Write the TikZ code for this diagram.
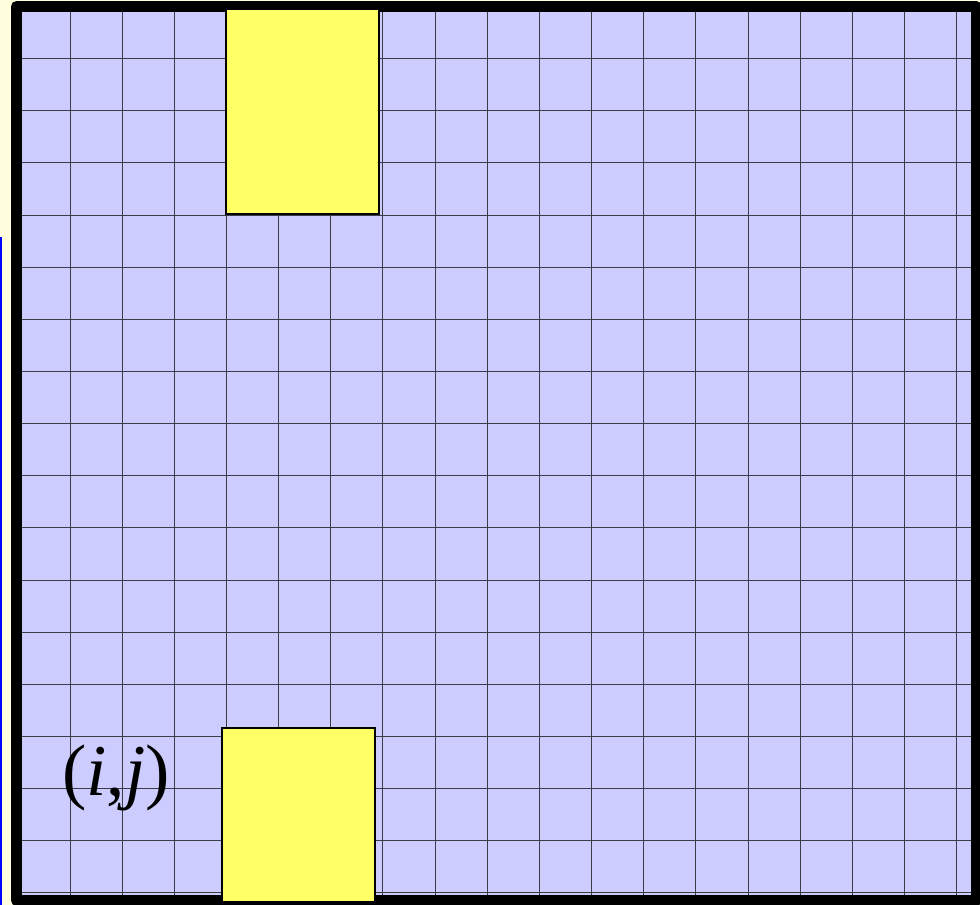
\documentclass[tikz,border=0pt]{standalone}
\usepackage{fontspec}
\setmainfont{Liberation Serif}
\definecolor{paper}{RGB}{255,255,221}
\definecolor{lav}{RGB}{204,204,255}
\definecolor{cellyellow}{RGB}{255,255,102}
\definecolor{gridgray}{RGB}{60,60,70}
\tikzset{
  gridline/.style={draw=gridgray, line width=1pt},
  frameline/.style={draw=black, line width=11pt, line join=round},
  cellbox/.style={draw=black, line width=1.6pt, fill=cellyellow, inner sep=0pt, minimum width=153pt},
  label/.style={font=\fontsize{73}{73}\selectfont, inner sep=0pt}
}
\begin{document}
\begin{tikzpicture}[x=1pt,y=-1pt]
\useasboundingbox (0,0) rectangle (980,905);
\fill[paper] (0,0) rectangle (980,905);
\fill[blue] (0,237) rectangle (2,905);
\fill[lav] (16.5,6.5) rectangle (976,901);
\foreach \k in {0,...,17} {
  \draw[gridline] ({70+52.16*\k},12) -- ({70+52.16*\k},897);
}
\foreach \k in {0,...,16} {
  \draw[gridline] (22,{58.7+52.14*\k}) -- (972,{58.7+52.14*\k});
}
\draw[frameline] (16.5,6.5) rectangle (976,900.5);
\node[cellbox, minimum height=205pt] (top) at (302.5,111.5) {};
\node[cellbox, minimum height=174pt] (bottom) at (298.5,815) {};
\node[label] (ij) at (116,778) {(\textit{i},\textit{j})};
\end{tikzpicture}
\end{document}
